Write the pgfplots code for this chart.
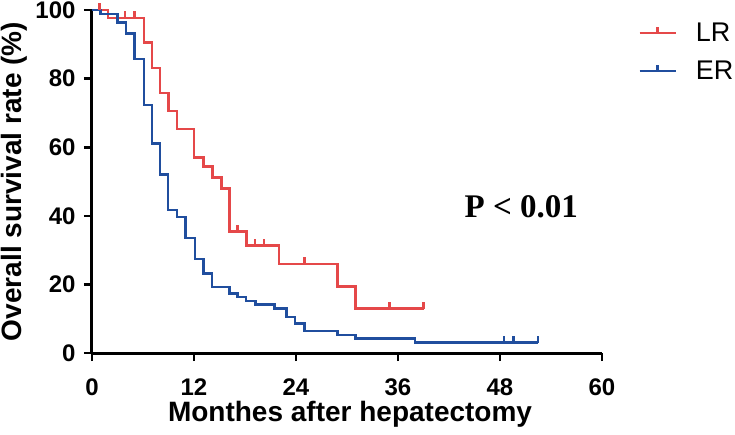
\documentclass[border=0pt]{standalone}
\usepackage{pgfplots}
\pgfplotsset{compat=1.18}
\usepackage{fontspec}
\setmainfont{Liberation Sans}
\newfontfamily\timesfont{Liberation Serif}
\definecolor{LRred}{RGB}{229,72,73}
\definecolor{ERblue}{RGB}{32,78,158}
\pgfdeclareplotmark{cens}{%
  \pgfpathmoveto{\pgfqpoint{0pt}{0pt}}%
  \pgfpathlineto{\pgfqpoint{0pt}{7pt}}%
  \pgfusepathqstroke}
\begin{document}
\begin{tikzpicture}
\path[use as bounding box] (-92pt,-81pt) rectangle (643pt,353pt);
\begin{axis}[
  at={(0pt,0pt)}, anchor=origin,
  scale only axis, width=510pt, height=343pt,
  xmin=0, xmax=60, ymin=0, ymax=100,
  axis lines*=left,
  axis line style={line width=3pt, black},
  xtick={0,12,24,36,48,60}, ytick={0,20,40,60,80,100},
  tick align=outside, major tick length=8pt,
  tick style={line width=2.6pt, black},
  ticklabel style={font=\fontsize{24}{24}\selectfont\bfseries},
  xticklabel style={yshift=-14pt},
  yticklabel style={xshift=-5pt},
  /pgf/number format/assume math mode=true,
  xlabel={Monthes after hepatectomy},
  ylabel={Overall survival rate (\%)},
  label style={font=\fontsize{28}{28}\selectfont\bfseries},
  xlabel style={at={(axis description cs:0.506,-0.2)}, anchor=base},
  ylabel style={at={(axis description cs:-0.139,0.5)}, anchor=base},
  clip=false,
  legend style={draw=none, fill=none, at={(axis description cs:1.065,0.975)}, anchor=north west,
    font=\fontsize{27}{27}\selectfont, row sep=14pt,
    /tikz/every odd column/.append style={column sep=17pt}},
  legend cell align=left,
  legend image code/.code={%
    \draw[#1, mark=none] (0pt,0pt) -- (36pt,0pt);
    \draw[#1, mark=none] (18pt,0pt) -- (18pt,6pt);},
]
% LR
\addplot[const plot, LRred, line width=2.6pt] coordinates {
 (0,100) (1.9,97.7) (6.1,90.6) (7.05,83.1) (8.0,75.8) (9.0,70.6) (10.0,65.3)
 (12.0,57.0) (13.1,54.3) (14.2,51.1) (15.2,47.9) (16.2,35.4) (18.2,31.3)
 (22.0,25.9) (28.9,19.4) (31.0,12.9) (39.0,12.9)};
\addlegendentry{LR}
% ER
\addplot[const plot, ERblue, line width=2.6pt] coordinates {
 (0,100) (1.0,98.8) (3.0,96.3) (4.0,93.1) (5.0,85.7) (6.1,72.3) (7.05,61.1)
 (8.0,52.1) (8.95,41.7) (10.0,39.6) (11.0,33.5) (12.1,27.4) (13.1,23.2)
 (14.1,19.3) (16.2,17.3) (17.1,16.3) (18.1,15.2) (19.2,14.2) (21.5,12.9)
 (22.9,10.5) (23.9,8.6) (25.0,6.4) (28.9,5.3) (31.0,4.2) (38.0,3.0) (52.5,3.0)};
\addlegendentry{ER}
% censors
\addplot[forget plot, only marks, mark=cens, LRred, line width=2.4pt] coordinates {
 (0.9,100) (3.9,97.7) (5.0,97.7) (17.1,35.4) (19.2,31.3) (20.2,31.3)
 (25.0,25.9) (35.0,12.9) (39.0,12.9)};
\addplot[forget plot, only marks, mark=cens, ERblue, line width=2.4pt] coordinates {
 (48.5,3.0) (49.6,3.0) (52.5,3.0)};
\node[font=\timesfont\bfseries\fontsize{33}{33}\selectfont, anchor=base] at (axis cs:50.5,39.4) {P < 0.01};
\end{axis}
\end{tikzpicture}
\end{document}
